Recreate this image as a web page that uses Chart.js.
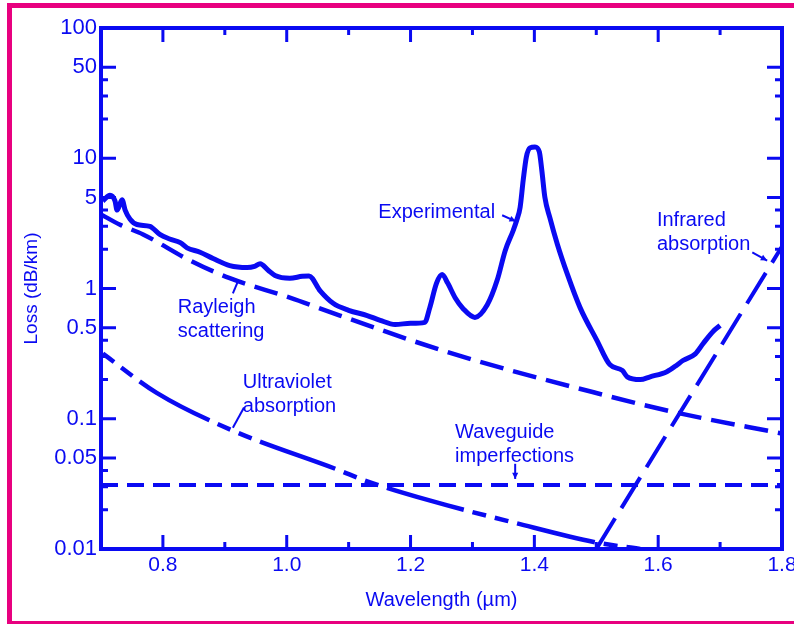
<!DOCTYPE html>
<html>
<head>
<meta charset="utf-8">
<script src="https://cdn.jsdelivr.net/npm/chart.js@4/dist/chart.umd.min.js"></script>
<style>
  html, body { margin: 0; padding: 0; background: #fff; overflow: hidden; }
  .frame { position: absolute; left: 7px; top: 3px; width: 820px; height: 623px; border: 5px solid #e8007f; box-sizing: border-box; }
  canvas { position: absolute; left: 0; top: 0; }
</style>
</head>
<body>
<div class="frame"></div>
<canvas id="lossChart" width="794" height="624"></canvas>
<script>
// Values (wavelength in µm, loss in dB/km)
const experimentalX = [0.703, 0.7145, 0.7226, 0.726, 0.734, 0.739, 0.747, 0.758, 0.779, 0.795, 0.811, 0.828, 0.839, 0.860, 0.881, 0.908, 0.936, 0.948, 0.957, 0.970, 0.981, 1.005, 1.025, 1.036, 1.054, 1.075, 1.100, 1.130, 1.151, 1.175, 1.200, 1.223, 1.231, 1.242, 1.251, 1.260, 1.272, 1.285, 1.304, 1.324, 1.340, 1.353, 1.366, 1.372, 1.377, 1.382, 1.387, 1.393, 1.401, 1.408, 1.412, 1.417, 1.425, 1.437, 1.453, 1.474, 1.501, 1.522, 1.542, 1.550, 1.571, 1.587, 1.614, 1.631, 1.640, 1.660, 1.673, 1.689, 1.700];
const experimentalLoss = [4.7, 5.2, 4.7, 4.0, 4.8, 4.0, 3.4, 3.1, 3.0, 2.6, 2.4, 2.25, 2.05, 1.9, 1.7, 1.5, 1.45, 1.48, 1.55, 1.38, 1.26, 1.2, 1.24, 1.25, 0.96, 0.77, 0.68, 0.62, 0.57, 0.53, 0.54, 0.55, 0.71, 1.1, 1.28, 1.1, 0.85, 0.70, 0.60, 0.75, 1.16, 1.96, 2.8, 3.4, 4.2, 6.8, 10.2, 12.0, 12.2, 11.2, 8.1, 5.0, 3.5, 2.2, 1.3, 0.71, 0.40, 0.26, 0.235, 0.21, 0.20, 0.21, 0.23, 0.26, 0.28, 0.315, 0.38, 0.47, 0.52];

const rayleighX = [0.70, 0.73, 0.768, 0.844, 0.908, 1.005, 1.086, 1.264, 1.506, 1.635, 1.80];
const rayleighLoss = [3.7, 3.1, 2.6, 1.64, 1.2, 0.85, 0.62, 0.32, 0.155, 0.11, 0.077];

const ultravioletX = [0.703, 0.79, 0.913, 1.086, 1.123, 1.232, 1.366, 1.501, 1.571];
const ultravioletLoss = [0.316, 0.158, 0.081, 0.040, 0.034, 0.0235, 0.016, 0.0112, 0.0100];

const waveguideX = [0.70, 1.80];
const waveguideLoss = [0.031, 0.031];

const infraredX = [1.50, 1.80];
const infraredLoss = [0.01, 2.1];

// tick values
const xMajorTicks = [0.8, 1.0, 1.2, 1.4, 1.6, 1.8];
const xMinorTicks = [0.9, 1.1, 1.3, 1.5, 1.7];
const yMajorTicks = [0.01, 0.05, 0.1, 0.5, 1, 5, 10, 50, 100];
const yMinorTicks = [0.02, 0.03, 0.04, 0.2, 0.3, 0.4, 2, 3, 4, 20, 30, 40];

const BLUE = '#0a0af2';
const FONT = '"Liberation Sans", Arial, sans-serif';

// curve labels and leader arrows, placed in data units
const notes = [
  { lines: ['Experimental'], x: 1.148, y: 3.85 },
  { lines: ['Rayleigh', 'scattering'], x: 0.824, y: 0.714 },
  { lines: ['Ultraviolet', 'absorption'], x: 0.929, y: 0.189 },
  { lines: ['Waveguide', 'imperfections'], x: 1.272, y: 0.078 },
  { lines: ['Infrared', 'absorption'], x: 1.598, y: 3.33 }
];
const leaders = [
  { from: [1.348, 3.65], to: [1.370, 3.28], head: true },
  { from: [0.913, 0.916], to: [0.921, 1.13], head: false },
  { from: [0.931, 0.122], to: [0.913, 0.0853], head: false },
  { from: [1.369, 0.0451], to: [1.369, 0.0345], head: true },
  { from: [1.752, 1.89], to: [1.776, 1.64], head: true }
];

function toPoints(xs, ys) {
  return xs.map((x, i) => ({ x: x, y: ys[i] }));
}

// Box, inward tick marks and the curve labels
const framePlugin = {
  id: 'frame',
  afterDatasetsDraw(chart) {
    const ctx = chart.ctx;
    const area = chart.chartArea;
    const xs = chart.scales.x;
    const ys = chart.scales.y;
    ctx.save();
    ctx.strokeStyle = BLUE;
    ctx.fillStyle = BLUE;
    ctx.lineWidth = 4;
    ctx.lineCap = 'butt';
    ctx.strokeRect(area.left, area.top, area.right - area.left, area.bottom - area.top);

    ctx.lineWidth = 3;
    function xTick(v, len) {
      const px = xs.getPixelForValue(v);
      ctx.beginPath();
      ctx.moveTo(px, area.bottom); ctx.lineTo(px, area.bottom - len);
      ctx.moveTo(px, area.top); ctx.lineTo(px, area.top + len);
      ctx.stroke();
    }
    function yTick(v, len) {
      const py = ys.getPixelForValue(v);
      ctx.beginPath();
      ctx.moveTo(area.left, py); ctx.lineTo(area.left + len, py);
      ctx.moveTo(area.right, py); ctx.lineTo(area.right - len, py);
      ctx.stroke();
    }
    xMajorTicks.forEach(v => xTick(v, 14));
    xMinorTicks.forEach(v => xTick(v, 7));
    yMajorTicks.slice(1, -1).forEach(v => yTick(v, 15));
    yMinorTicks.forEach(v => yTick(v, 7));

    // labels
    ctx.font = '20px ' + FONT;
    ctx.textAlign = 'left';
    ctx.textBaseline = 'middle';
    notes.forEach(n => {
      const px = xs.getPixelForValue(n.x);
      const py = ys.getPixelForValue(n.y);
      n.lines.forEach((line, i) => ctx.fillText(line, px, py + i * 24));
    });

    // leaders
    ctx.lineWidth = 2;
    leaders.forEach(l => {
      const x1 = xs.getPixelForValue(l.from[0]);
      const y1 = ys.getPixelForValue(l.from[1]);
      const x2 = xs.getPixelForValue(l.to[0]);
      const y2 = ys.getPixelForValue(l.to[1]);
      ctx.beginPath();
      ctx.moveTo(x1, y1); ctx.lineTo(x2, y2);
      ctx.stroke();
      if (l.head) {
        const a = Math.atan2(y2 - y1, x2 - x1);
        ctx.beginPath();
        ctx.moveTo(x2, y2);
        ctx.lineTo(x2 - 7 * Math.cos(a - 0.45), y2 - 7 * Math.sin(a - 0.45));
        ctx.lineTo(x2 - 7 * Math.cos(a + 0.45), y2 - 7 * Math.sin(a + 0.45));
        ctx.closePath();
        ctx.fill();
      }
    });
    ctx.restore();
  }
};

const ctx = document.getElementById('lossChart').getContext('2d');
new Chart(ctx, {
  type: 'line',
  data: {
    datasets: [
      { label: 'Experimental', data: toPoints(experimentalX, experimentalLoss), borderWidth: 5, cubicInterpolationMode: 'monotone' },
      { label: 'Rayleigh scattering', data: toPoints(rayleighX, rayleighLoss), borderWidth: 4.5, borderDash: [24, 10], cubicInterpolationMode: 'monotone' },
      { label: 'Ultraviolet absorption', data: toPoints(ultravioletX, ultravioletLoss), borderWidth: 4.5, borderDash: [14, 9, 14, 9, 80, 9], cubicInterpolationMode: 'monotone' },
      { label: 'Waveguide imperfections', data: toPoints(waveguideX, waveguideLoss), borderWidth: 4, borderDash: [17, 9] },
      { label: 'Infrared absorption', data: toPoints(infraredX, infraredLoss), borderWidth: 4, borderDash: [36, 12] }
    ]
  },
  options: {
    responsive: false,
    animation: false,
    devicePixelRatio: 1,
    layout: { padding: { left: 12, top: 28, right: 12, bottom: 12 } },
    elements: {
      point: { radius: 0 },
      line: { borderColor: BLUE, fill: false, borderCapStyle: 'butt' }
    },
    plugins: {
      legend: { display: false },
      tooltip: { enabled: false }
    },
    scales: {
      x: {
        type: 'linear',
        min: 0.7,
        max: 1.8,
        grid: { display: false, drawTicks: false },
        border: { display: false },
        afterBuildTicks: scale => { scale.ticks = xMajorTicks.map(v => ({ value: v })); },
        afterFit: scale => { scale.height = 63; scale.paddingLeft = 0; scale.paddingRight = 0; },
        ticks: {
          color: BLUE,
          font: { family: FONT, size: 21 },
          padding: 4,
          maxRotation: 0,
          autoSkip: false,
          callback: v => v.toFixed(1)
        },
        title: {
          display: true,
          text: 'Wavelength (µm)',
          color: BLUE,
          font: { family: FONT, size: 20 },
          padding: { top: 0, bottom: 0 }
        }
      },
      y: {
        type: 'logarithmic',
        min: 0.01,
        max: 100,
        grid: { display: false, drawTicks: false },
        border: { display: false },
        afterBuildTicks: scale => { scale.ticks = yMajorTicks.map(v => ({ value: v })); },
        afterFit: scale => { scale.width = 89; scale.paddingTop = 0; scale.paddingBottom = 0; },
        ticks: {
          color: BLUE,
          font: { family: FONT, size: 22 },
          padding: 4,
          autoSkip: false,
          callback: v => String(v)
        },
        title: {
          display: true,
          text: 'Loss (dB/km)',
          color: BLUE,
          font: { family: FONT, size: 19 },
          padding: { top: 8, bottom: 0 }
        }
      }
    }
  },
  plugins: [framePlugin]
});
</script>
</body>
</html>
